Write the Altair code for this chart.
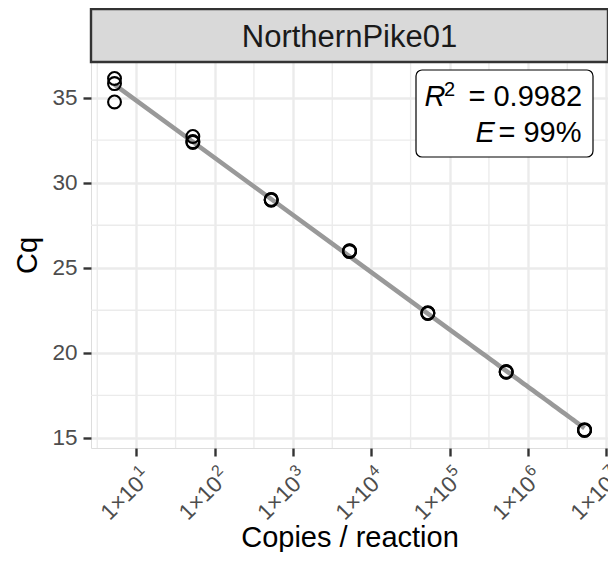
import altair as alt
import pandas as pd

# ---- data ----
copies_levels = [5.25, 52.5, 525, 5250, 52500, 525000, 5250000]
cq_rep1 = [36.13, 32.72, 29.00, 25.98, 22.35, 18.90, 15.45]
cq_rep2 = [35.83, 32.37, 28.97, 25.95, 22.31, 18.87, 15.43]
cq_rep3 = [34.75, 32.42, 29.02, 26.00, 22.33, 18.85, 15.48]

x_tick_values = [1e1, 1e2, 1e3, 1e4, 1e5, 1e6, 1e7]
x_tick_base = ["1×10"] * 7
x_tick_exp = ["1", "2", "3", "4", "5", "6", "7"]
x_minor = [3.1623, 31.623, 316.23, 3162.3, 31623, 316228, 3162278]
y_tick_values = [15, 20, 25, 30, 35]
y_minor = [17.5, 22.5, 27.5, 32.5]
x_domain = [2.63, 1.047e7]
y_domain = [14.4, 37.1]

strip_label = "NorthernPike01"
r2_value = "= 0.9982"
e_value = "= 99%"

FONT = "Liberation Sans"
W, H = 517, 386

rows = []
for c, a, b, d in zip(copies_levels, cq_rep1, cq_rep2, cq_rep3):
    for v in (a, b, d):
        rows.append({"copies": c, "cq": v})
df = pd.DataFrame(rows)

ticks_df = pd.DataFrame({"v": x_tick_values, "base": x_tick_base, "exp": x_tick_exp})

xscale = alt.Scale(type="log", domain=x_domain, nice=False)
yscale = alt.Scale(domain=y_domain, nice=False, zero=False)

x_axis = alt.Axis(
    values=x_tick_values, labels=False,
    tickColor="#333333", tickSize=8, tickWidth=2.4, domain=False,
    grid=True, gridColor="#EBEBEB", gridWidth=2.4,
    title="Copies / reaction", titleFontSize=29, titleColor="#000000",
    titleFontWeight="normal", titleY=98, titleBaseline="alphabetic",
    titleFont=FONT,
)
y_axis = alt.Axis(
    values=y_tick_values, labelFontSize=22.5, labelColor="#4D4D4D",
    labelPadding=6, labelFont=FONT,
    tickColor="#333333", tickSize=8, tickWidth=2.4, domain=False,
    grid=True, gridColor="#EBEBEB", gridWidth=2.4,
    title="Cq", titleFontSize=29, titleColor="#000000", titleFontWeight="normal",
    titleX=-55, titleY=H / 2, titleAngle=270, titleAlign="center",
    titleBaseline="alphabetic", titleFont=FONT,
)

minor_x = alt.Chart(pd.DataFrame({"v": x_minor})).mark_rule(
    color="#EBEBEB", strokeWidth=1.3
).encode(x=alt.X("v:Q", scale=xscale, axis=x_axis))

minor_y = alt.Chart(pd.DataFrame({"v": y_minor})).mark_rule(
    color="#EBEBEB", strokeWidth=1.3
).encode(y=alt.Y("v:Q", scale=yscale, axis=y_axis))

fit = alt.Chart(df).transform_regression(
    "copies", "cq", method="log"
).mark_line(color="#999999", strokeWidth=4.6).encode(
    x=alt.X("copies:Q", scale=xscale, axis=x_axis),
    y=alt.Y("cq:Q", scale=yscale, axis=y_axis),
)

points = alt.Chart(df).mark_point(
    shape="circle", filled=False, color="#000000", strokeWidth=2.1, size=165, opacity=1
).encode(
    x=alt.X("copies:Q", scale=xscale, axis=x_axis),
    y=alt.Y("cq:Q", scale=yscale, axis=y_axis),
)

# rotated tick labels with real superscripts
LAB_Y = H + 14
tick_base = alt.Chart(ticks_df).mark_text(
    font=FONT, fontSize=22.5, color="#4D4D4D", angle=315, align="right",
    baseline="top", dx=-10, dy=5,
).encode(x=alt.X("v:Q", scale=xscale, axis=x_axis), y=alt.value(LAB_Y), text="base:N")
tick_exp = alt.Chart(ticks_df).mark_text(
    font=FONT, fontSize=16, color="#4D4D4D", angle=315, align="right",
    baseline="top", dx=0, dy=0,
).encode(x=alt.X("v:Q", scale=xscale, axis=x_axis), y=alt.value(LAB_Y), text="exp:N")

one = pd.DataFrame({"a": [0]})

box = alt.Chart(one).mark_rect(
    fill="#FFFFFF", stroke="#000000", strokeWidth=1.2, cornerRadius=6
).encode(x=alt.value(325), x2=alt.value(502), y=alt.value(8), y2=alt.value(95))


def txt(s, x, y, size=29, style="normal", align="left", color="#000000"):
    return alt.Chart(one).mark_text(
        text=s, font=FONT, fontSize=size, fontStyle=style, align=align,
        baseline="alphabetic", color=color,
    ).encode(x=alt.value(x), y=alt.value(y))


annot = [
    txt("R", 333.5, 44, style="italic"),
    txt("2", 353, 34, size=20),
    txt(r2_value, 377.5, 44),
    txt("E", 384.5, 80, style="italic"),
    txt(e_value, 407.5, 80),
]

strip = alt.Chart(one).mark_rect(
    fill="#D9D9D9", stroke="#333333", strokeWidth=2.4
).encode(x=alt.value(0), x2=alt.value(W), y=alt.value(-53), y2=alt.value(0))
strip_text = txt(strip_label, W / 2, -15, size=31, align="center", color="#1A1A1A")

chart = alt.layer(
    minor_x, minor_y, fit, points, tick_base, tick_exp, box, *annot, strip, strip_text
).properties(
    width=W, height=H,
    autosize=alt.AutoSizeParams(type="none"),
    padding={"left": 83, "top": 54, "right": 0, "bottom": 104},
).configure_view(
    stroke="#333333", strokeWidth=2.4
).configure(background="#FFFFFF")

chart.save("out.html", embed_options={"renderer": "svg", "actions": False})
